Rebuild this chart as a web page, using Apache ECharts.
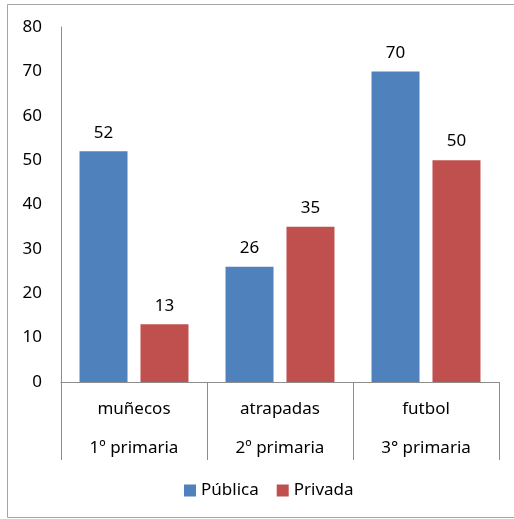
<!DOCTYPE html>
<html>
<head>
<meta charset="utf-8">
<script src="https://cdn.jsdelivr.net/npm/echarts@6/dist/echarts.min.js"></script>
<style>
  html, body { margin: 0; padding: 0; background: #fff; }
  #chart { width: 514px; height: 519px; }
</style>
</head>
<body>
<div id="chart"></div>
<script>
// Juegos preferidos por curso, escuela pública vs privada
const juegos = ['muñecos', 'atrapadas', 'futbol'];
const cursos = ['1º primaria', '2º primaria', '3° primaria'];
const publica = [52, 26, 70];
const privada = [13, 35, 50];
const yTicks = [0, 10, 20, 30, 40, 50, 60, 70, 80];

const FONT = '"Noto Sans", sans-serif';
const TEXT = '#000';
const LINE = '#8c8c8c';

const categories = juegos.map((j, i) => j + '\n' + cursos[i]);

const barLabel = {
  show: true,
  position: 'top',
  distance: 10,
  color: TEXT,
  fontFamily: FONT,
  fontSize: 17
};

const chart = echarts.init(document.getElementById('chart'), null, { renderer: 'canvas' });
chart.setOption({
  animation: false,
  backgroundColor: '#fff',
  textStyle: { fontFamily: FONT },
  graphic: [{
    type: 'rect',
    shape: { x: 7.5, y: 4.5, width: 520, height: 513 },
    style: { fill: 'none', stroke: '#a6a6a6', lineWidth: 1 },
    silent: true
  }],
  grid: { left: 61, right: 15, top: 27, bottom: 137, containLabel: false },
  legend: {
    bottom: 15,
    left: 179,
    itemWidth: 12,
    itemHeight: 12,
    itemGap: 18,
    icon: 'rect',
    textStyle: { color: TEXT, fontFamily: FONT, fontSize: 17 },
    data: ['Pública', 'Privada']
  },
  xAxis: {
    type: 'category',
    data: categories,
    axisLine: { lineStyle: { color: LINE, width: 1 } },
    axisTick: { show: true, length: 78, lineStyle: { color: LINE, width: 1 } },
    axisLabel: {
      color: TEXT,
      fontFamily: FONT,
      fontSize: 17,
      lineHeight: 39,
      margin: 8,
      verticalAlign: 'top'
    }
  },
  yAxis: {
    type: 'value',
    min: yTicks[0],
    max: yTicks[yTicks.length - 1],
    interval: yTicks[1] - yTicks[0],
    axisLine: { show: true, lineStyle: { color: LINE, width: 1 } },
    axisTick: { show: false },
    splitLine: { show: false },
    axisLabel: { color: TEXT, fontFamily: FONT, fontSize: 17, margin: 19 }
  },
  series: [
    {
      name: 'Pública',
      type: 'bar',
      data: publica,
      barWidth: 48,
      barGap: '27%',
      itemStyle: { color: '#4f81bd' },
      label: barLabel
    },
    {
      name: 'Privada',
      type: 'bar',
      data: privada,
      barWidth: 48,
      barGap: '27%',
      itemStyle: { color: '#c0504d' },
      label: barLabel
    }
  ]
});
</script>
</body>
</html>
